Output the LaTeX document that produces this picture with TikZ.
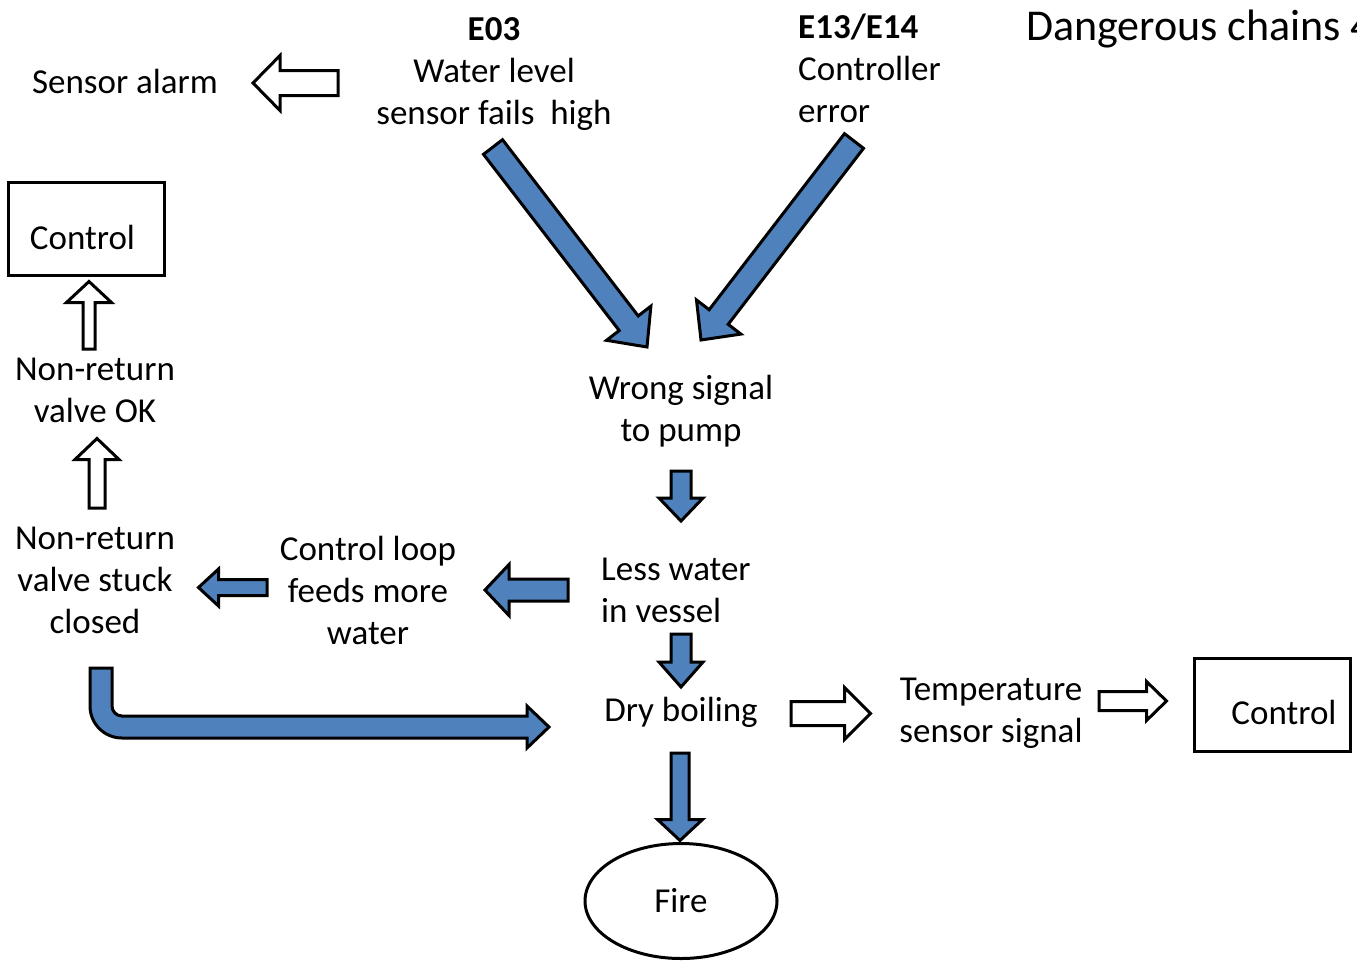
\documentclass[tikz,border=0pt]{standalone}
\usepackage{fontspec}
\setmainfont{Carlito}
\usetikzlibrary{calc,shapes.geometric,positioning}

\definecolor{arrowblue}{RGB}{79,129,189}

% block arrow: style, start, tip, half shaft, half head, head length
\newcommand{\blockarrow}[6]{%
  \path ($(#3)!#6!(#2)$) coordinate (hb);
  \draw[#1] ($(#2)!#4!90:(#3)$) -- ($(hb)!#4!90:(#3)$) -- ($(hb)!#5!90:(#3)$) -- (#3)
    -- ($(hb)!#5!-90:(#3)$) -- ($(hb)!#4!-90:(#3)$) -- ($(#2)!#4!-90:(#3)$) -- cycle;
}

\begin{document}
\begin{tikzpicture}[
    x=1pt, y=-1pt,
    txt/.style={font=\fontsize{35}{42}\selectfont, align=center, inner sep=0pt},
    box/.style={draw, line width=3pt, minimum width=156pt, minimum height=93pt, inner sep=0pt},
    bluearrow/.style={draw, line width=3pt, line join=miter, fill=arrowblue},
    whitearrow/.style={draw, line width=3pt, line join=miter, fill=white}
]
\clip (0,0) rectangle (1357,962);

\node[txt] (alarm) at (125,81) {Sensor alarm};
\node[txt] (e03) at (494,74.5) {\textbf{E03}\\Water level\\sensor fails~ high};
\node[txt, anchor=west, align=left] (e13) at (798,68) {\textbf{E13/E14}\\Controller\\error};
\node[txt, anchor=west, font=\fontsize{44}{52}\selectfont] (title) at (1026,29) {Dangerous chains 4};

\node[box] (ctrlL) at (86.5,229) {};
\node[txt] at ($(ctrlL.center)+(-4,8)$) {Control};
\node[txt] (nrok) at (95,390) {Non-return\\valve OK};
\node[txt] (nrstuck) at (95,580) {Non-return\\valve stuck\\closed};
\node[txt] (loop) at (368,590) {Control loop\\feeds more\\water};
\node[txt, anchor=west, align=left] (less) at (601,590) {Less water\\in vessel};
\node[txt] (wrong) at (681,411) {Wrong signal\\to pump};
\node[txt] (dry) at (681,712) {Dry boiling};
\node[txt, draw, ellipse, line width=3pt, minimum width=192pt, minimum height=115pt] (fire) at (681,901) {Fire};
\node[txt] (temp) at (991,713) {Temperature\\sensor signal};
\node[box] (ctrlR) at (1272,704.5) {};
\node[txt] at ($(ctrlR.center)+(12,8)$) {Control};

% arrow ends
\coordinate (alarmS) at (338,83);     \coordinate (alarmT) at (253,83);
\coordinate (e03S) at (493,147);      \coordinate (e03T) at (647,347);
\coordinate (e13S) at (854,141);      \coordinate (e13T) at (701,340);
\coordinate (okS) at (89,349);        \coordinate (okT) at (89,281.5);
\coordinate (stuckS) at (97,508);     \coordinate (stuckT) at (97,438.5);
\coordinate (loopS) at (267,587.5);   \coordinate (loopT) at (198.5,587.5);
\coordinate (lessS) at (568,590);     \coordinate (lessT) at (485,590);
\coordinate (pumpS) at (681,471);     \coordinate (pumpT) at (681,521);
\coordinate (vesselS) at (681,634);   \coordinate (vesselT) at (681,687);
\coordinate (dryS) at (680,753);      \coordinate (dryT) at (680,840.5);
\coordinate (tempS) at (791,713.5);   \coordinate (tempT) at (870.5,713.5);
\coordinate (ctrlS) at (1099,701);    \coordinate (ctrlT) at (1166.5,701);

\blockarrow{whitearrow}{alarmS}{alarmT}{12.5pt}{27.5pt}{27pt}
\blockarrow{bluearrow}{e03S}{e03T}{12pt}{28pt}{30pt}
\blockarrow{bluearrow}{e13S}{e13T}{12pt}{28pt}{29pt}
\blockarrow{whitearrow}{okS}{okT}{6pt}{22.5pt}{21pt}
\blockarrow{whitearrow}{stuckS}{stuckT}{8pt}{22pt}{21pt}
\blockarrow{bluearrow}{loopS}{loopT}{8pt}{18.5pt}{20pt}
\blockarrow{bluearrow}{lessS}{lessT}{11pt}{25.5pt}{24pt}
\blockarrow{bluearrow}{pumpS}{pumpT}{10pt}{22pt}{23pt}
\blockarrow{bluearrow}{vesselS}{vesselT}{10pt}{22pt}{25pt}
\blockarrow{bluearrow}{dryS}{dryT}{9pt}{22.5pt}{21pt}
\blockarrow{whitearrow}{tempS}{tempT}{12pt}{26pt}{26pt}
\blockarrow{whitearrow}{ctrlS}{ctrlT}{9.5pt}{19.5pt}{20pt}

% bent arrow from stuck valve to dry boiling
\draw[bluearrow] (90,668) -- (90,706) .. controls (90,723.7) and (104.3,738) .. (122,738)
  -- (527,738) -- (527,748) -- (549,727) -- (527,706) -- (527,716) -- (122,716)
  .. controls (116.5,716) and (112,711.5) .. (112,706) -- (112,668) -- cycle;
\end{tikzpicture}
\end{document}
